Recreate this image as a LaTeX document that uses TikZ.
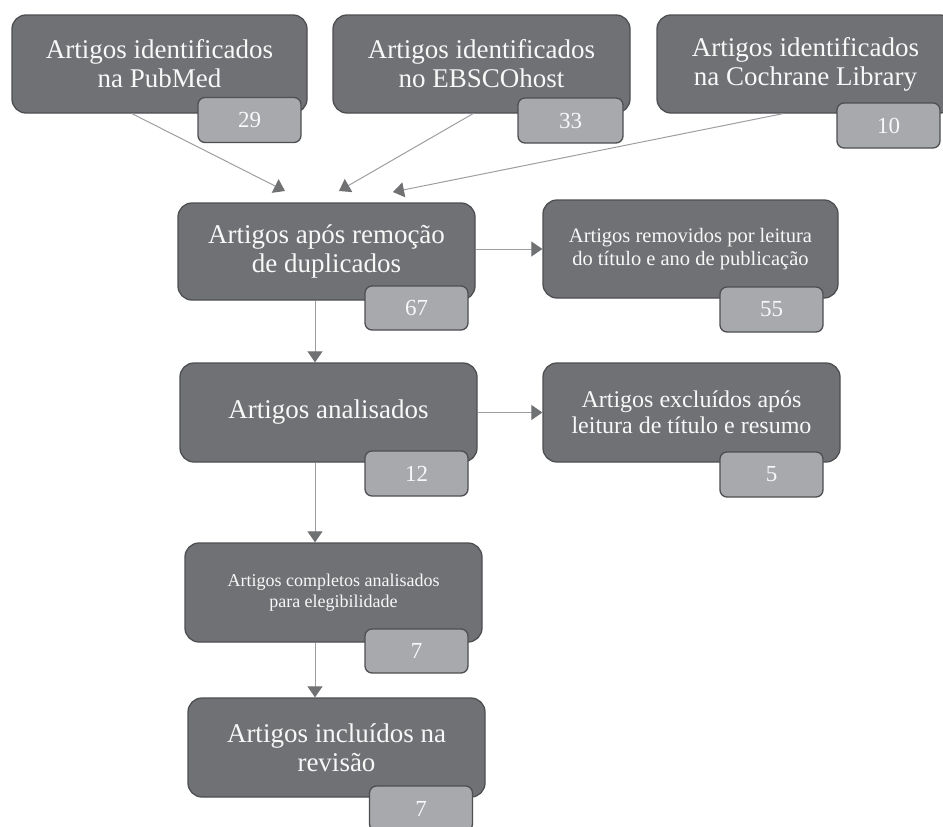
\documentclass[tikz,border=0pt]{standalone}
\usepackage{fontspec}
\setmainfont{Liberation Serif}
\usetikzlibrary{arrows.meta,calc}

\definecolor{boxfill}{RGB}{112,113,116}
\definecolor{boxedge}{RGB}{78,79,81}
\definecolor{numfill}{RGB}{167,169,172}
\definecolor{boxtext}{RGB}{248,248,248}
\definecolor{linkgray}{RGB}{158,158,160}
\definecolor{tipgray}{RGB}{112,113,115}

\tikzset{
  bigbox/.style={draw=boxedge, fill=boxfill, line width=1.3pt, rounded corners=14pt,
    text=boxtext, align=center, inner sep=0pt, minimum width=297pt, minimum height=98pt},
  numbox/.style={draw=boxedge, fill=numfill, line width=1.3pt, rounded corners=7pt,
    text=boxtext, inner sep=0pt, minimum width=103pt, minimum height=45pt,
    font=\fontsize{23}{25}\selectfont},
  link/.style={draw=linkgray, line width=1pt,
    -{Triangle[length=11pt,width=15pt,color=tipgray]}},
  bigtext/.style={font=\fontsize{27}{29}\selectfont},
}

\begin{document}
\begin{tikzpicture}[x=1pt,y=-1pt]
  \useasboundingbox (0,0) rectangle (943,827);
  \clip (0,0) rectangle (943,827);

  % sources
  \node[bigbox,bigtext,minimum width=295pt] (pub) at (159.5,64) {Artigos identificados\\na PubMed};
  \node[numbox] (pubn) at (249.5,120) {29};
  \node[bigbox,bigtext] (ebs) at (481.5,64) {Artigos identificados\\no EBSCOhost};
  \node[numbox,minimum width=105pt] (ebsn) at (570.5,120.5) {33};
  \node[bigbox,bigtext] (coc) at (805.5,64) {Artigos identificados\\na Cochrane Library};
  \node[numbox] (cocn) at (888.5,125.5) {10};

  % screening steps
  \node[bigbox,bigtext,minimum height=97pt] (dup) at (326.5,251.5) {Artigos após remoção\\de duplicados};
  \node[numbox,minimum height=44pt] (dupn) at (416.5,308) {67};
  \node[bigbox,minimum width=295pt,font=\fontsize{20.5}{23}\selectfont] (rem) at (690.5,249)
    {Artigos removidos por leitura\\do título e ano de publicação};
  \node[numbox] (remn) at (771.5,309.5) {55};

  \node[bigbox,bigtext,minimum height=99pt] (ana) at (328.5,412.5) {Artigos analisados};
  \node[numbox] (anan) at (416.5,473.5) {12};
  \node[bigbox,minimum height=99pt,font=\fontsize{24}{26}\selectfont] (exc) at (691.5,412.5)
    {Artigos excluídos após\\leitura de título e resumo};
  \node[numbox] (excn) at (771.5,474.5) {5};

  \node[bigbox,minimum height=99pt,font=\fontsize{18}{21}\selectfont] (comp) at (333.5,592.5)
    {Artigos completos analisados\\para elegibilidade};
  \node[numbox,minimum height=44pt] (compn) at (416.5,651) {7};
  \node[bigbox,bigtext,minimum height=99pt] (inc) at (336.5,747.5) {Artigos incluídos na\\revisão};
  \node[numbox] (incn) at (421,808.5) {7};

  % arrow targets above the merged box and the shared vertical spine
  \coordinate (t1) at (285,191);
  \coordinate (t2) at (339,191);
  \coordinate (t3) at (393,192);
  \coordinate (spine) at (315,0);

  \draw[link] ($(pub.south)+(-27.5,0)$) -- (t1);
  \draw[link] ($(ebs.south)+(-8.5,0)$) -- (t2);
  \draw[link] ($(coc.south)+(-22.5,0)$) -- (t3);

  \draw[link] (rem.west -| dup.east) -- (rem.west);
  \draw[link] (ana.east) -- (exc.west);

  \draw[link] (dup.south -| spine) -- (ana.north -| spine);
  \draw[link] (ana.south -| spine) -- (comp.north -| spine);
  \draw[link] (comp.south -| spine) -- (inc.north -| spine);
\end{tikzpicture}
\end{document}
